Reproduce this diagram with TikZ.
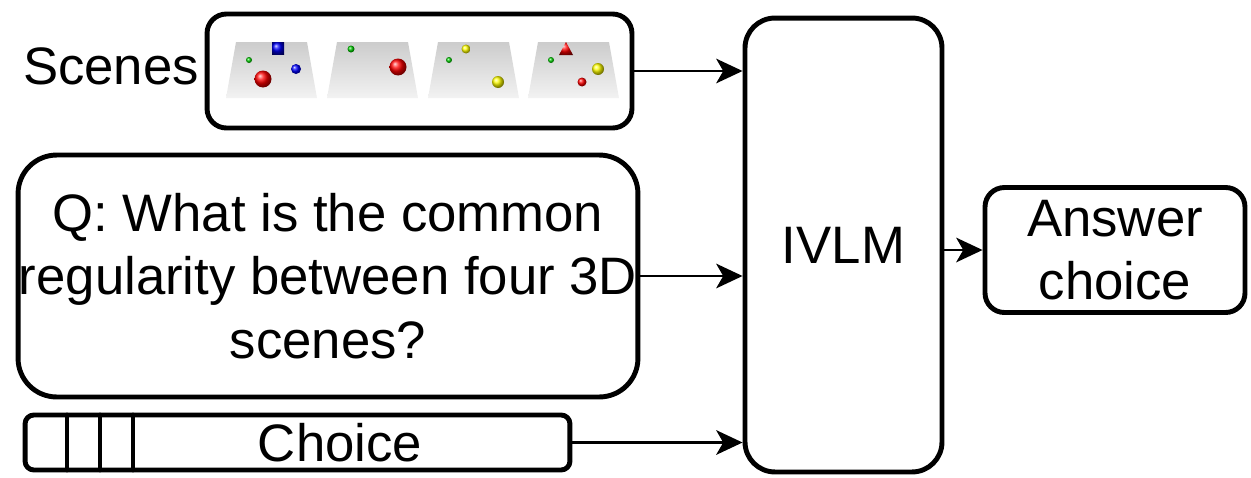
\documentclass[tikz,border=0pt]{standalone}
\usepackage{fontspec}
\setmainfont{Liberation Sans}
\usetikzlibrary{arrows.meta}

\tikzset{
  box/.style={draw, line width=2.8pt, rounded corners=#1, align=center, inner sep=0pt},
  box/.default=11pt,
  link/.style={->, line width=1.5pt},
}
% one 3D scene thumbnail, #1 = left edge of its floor
\newcommand{\floor}[1]{%
  \shade[top color=gray!40, bottom color=gray!10] (#1,98) -- (#1+10,42) -- (#1+81,42) -- (#1+91,98) -- cycle;}

\begin{document}
\begin{tikzpicture}[x=0.02cm, y=-0.02cm, >={Stealth[length=15pt,width=14pt,inset=4pt]},
    font=\fontsize{30}{36}\selectfont, line join=round, line cap=round]
    \useasboundingbox (0,0) rectangle (1251,477);

    % inputs
    \node (label) at (111,66) {Scenes};
    \node[box, minimum width=8.5cm, minimum height=2.28cm] (scenes) at (419.5,71) {};
    \node[box=22pt, minimum width=12.4cm, minimum height=4.84cm] (question) at (328,276)
        {\rule{0pt}{0.35cm}Q: What is the common\\regularity between four 3D\\scenes?};
    \node[box=5pt, minimum width=10.9cm, minimum height=1.1cm] (choice) at (297.5,442.5) {\hspace*{1.7cm}Choice};
    \foreach \x in {67,100,133}
        \draw[line width=2.8pt] (\x,415) -- (\x,470);

    % model and output
    \node[box=17pt, minimum width=3.94cm, minimum height=9.08cm] (ivlm) at (843.5,245) {IVLM};
    \node[box, minimum width=5.2cm, minimum height=2.5cm] (answer) at (1115,250) {Answer\\choice};

    % the four scenes
    \floor{226} \floor{327} \floor{428} \floor{528}
    \shade[ball color=blue] (272,42) rectangle (284,54);
    \shade[ball color=green!80!black] (249,60) circle (0.06cm);
    \shade[ball color=blue] (296,69) circle (0.1cm);
    \shade[ball color=red] (263,79) circle (0.17cm);

    \shade[ball color=green!80!black] (351,49) circle (0.07cm);
    \shade[ball color=red] (398,67) circle (0.17cm);

    \shade[ball color=yellow] (466,49) circle (0.09cm);
    \shade[ball color=green!80!black] (449,60) circle (0.06cm);
    \shade[ball color=yellow] (498,82) circle (0.12cm);

    \shade[ball color=red] (559,55) -- (566,42) -- (573,55) -- cycle;
    \shade[ball color=green!80!black] (551,60) circle (0.06cm);
    \shade[ball color=yellow] (598,69) circle (0.12cm);
    \shade[ball color=red] (582,82) circle (0.09cm);

    % connectors
    \draw[link] (scenes.east) -- (scenes.east -| ivlm.west);
    \draw[link] (question.east) -- (question.east -| ivlm.west);
    \draw[link] (choice.east) -- (choice.east -| ivlm.west);
    \draw[link] (ivlm.east |- answer.west) -- (answer.west);
\end{tikzpicture}
\end{document}
